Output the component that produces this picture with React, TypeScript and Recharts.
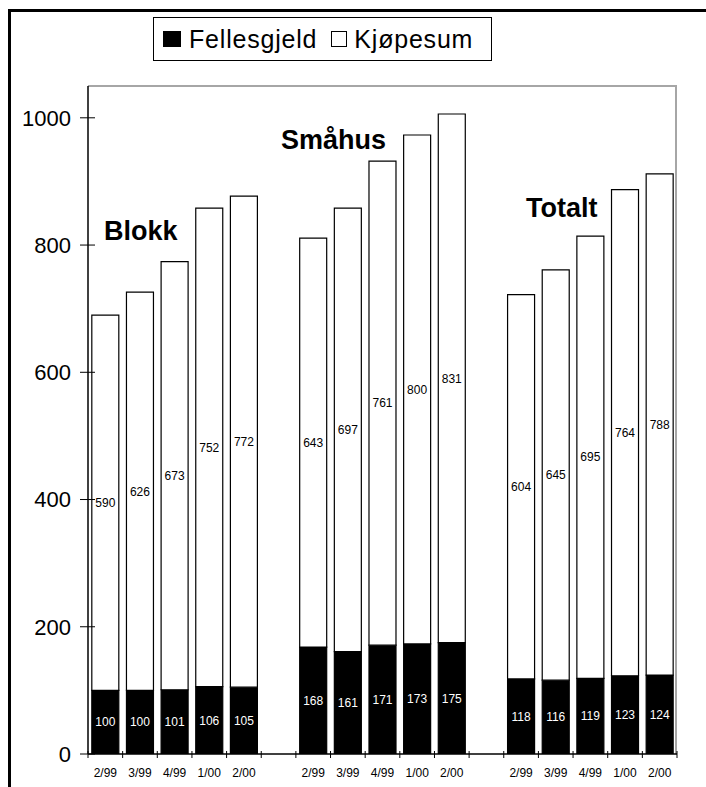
import { Bar, BarChart, LabelList, XAxis, YAxis } from "recharts";

const periods = ["2/99", "3/99", "4/99", "1/00", "2/00"];
const groups = ["Blokk", "Småhus", "Totalt"];

// Fellesgjeld (black) and Kjøpesum (white) per group, in 1000 kr
const blokkFelles = [100, 100, 101, 106, 105];
const blokkKjop = [590, 626, 673, 752, 772];
const smahusFelles = [168, 161, 171, 173, 175];
const smahusKjop = [643, 697, 761, 800, 831];
const totaltFelles = [118, 116, 119, 123, 124];
const totaltKjop = [604, 645, 695, 764, 788];

const yTicks = [0, 200, 400, 600, 800, 1000];

const FONT = "'Liberation Sans', Arial, sans-serif";

const W = 706;
const H = 787;
const PLOT_LEFT = 88;
const PLOT_RIGHT = 677;
const PLOT_TOP = 86;
const AXIS_H = 33;
const CATS = 17;
const BAND = (PLOT_RIGHT - PLOT_LEFT) / CATS;

type Row = { key: string; label: string; felles: number | null; kjop: number | null };

const seriesByGroup = [
  [blokkFelles, blokkKjop],
  [smahusFelles, smahusKjop],
  [totaltFelles, totaltKjop],
];

const data: Row[] = [];
groups.forEach((g, gi) => {
  if (gi > 0) data.push({ key: `gap${gi}`, label: "", felles: null, kjop: null });
  periods.forEach((p, i) => {
    data.push({
      key: `${g}-${p}`,
      label: p,
      felles: seriesByGroup[gi][0][i],
      kjop: seriesByGroup[gi][1][i],
    });
  });
});

function XTick(props: any) {
  const { x, y, index } = props;
  const row = data[index];
  const left = x - BAND / 2;
  return (
    <g>
      <line x1={left} x2={left} y1={y - 3} y2={y + 4} stroke="#000" />
      {index === data.length - 1 && (
        <line x1={x + BAND / 2} x2={x + BAND / 2} y1={y - 3} y2={y + 4} stroke="#000" />
      )}
      <text x={x} y={y + 23} textAnchor="middle" fontSize={12} fontFamily={FONT} fill="#000">
        {row ? row.label : ""}
      </text>
    </g>
  );
}

function YTick(props: any) {
  const { x, y, payload } = props;
  return (
    <g>
      <line x1={x - 8} x2={x + 7} y1={y} y2={y} stroke="#000" />
      <text x={x - 17} y={y} dy="0.36em" textAnchor="end" fontSize={22} fontFamily={FONT} fill="#000">
        {payload.value}
      </text>
    </g>
  );
}

const labelFmt = (v: any) => (v == null ? "" : v);

export default function App() {
  return (
    <div style={{ position: "fixed", left: 0, top: 0, width: W, height: H, background: "#fff", overflow: "hidden" }}>
      <div
        style={{
          position: "absolute",
          left: 8,
          top: 9,
          width: W,
          height: H,
          borderLeft: "3px solid #000",
          borderTop: "3px solid #000",
        }}
      />
      {/* plot area frame: grey top and right edges */}
      <div
        style={{
          position: "absolute",
          left: PLOT_LEFT,
          top: PLOT_TOP - 1,
          width: PLOT_RIGHT - PLOT_LEFT,
          height: H - AXIS_H - PLOT_TOP + 1,
          borderTop: "2px solid #a6a6a6",
          borderRight: "2px solid #a6a6a6",
          boxSizing: "border-box",
        }}
      />
      <BarChart
        width={W}
        height={H}
        data={data}
        margin={{ top: PLOT_TOP, right: W - PLOT_RIGHT, bottom: 0, left: 8 }}
        barCategoryGap="11%"
        style={{ position: "absolute", left: 0, top: 0 }}
      >
        <XAxis
          dataKey="key"
          interval={0}
          height={AXIS_H}
          tickLine={false}
          tickSize={0}
          tickMargin={0}
          tick={<XTick />}
          axisLine={{ stroke: "#000", strokeWidth: 1.5 }}
        />
        <YAxis
          width={PLOT_LEFT - 8}
          domain={[0, 1050]}
          ticks={yTicks}
          allowDataOverflow
          tickLine={false}
          tickSize={0}
          tickMargin={0}
          tick={<YTick />}
          axisLine={{ stroke: "#000", strokeWidth: 1.5 }}
        />
        <Bar dataKey="felles" stackId="a" fill="#000" stroke="#000" strokeWidth={1.2} isAnimationActive={false}>
          <LabelList dataKey="felles" position="center" formatter={labelFmt} fill="#fff" fontSize={12} fontFamily={FONT} />
        </Bar>
        <Bar dataKey="kjop" stackId="a" fill="#fff" stroke="#000" strokeWidth={1.2} isAnimationActive={false}>
          <LabelList dataKey="kjop" position="center" formatter={labelFmt} fill="#000" fontSize={12} fontFamily={FONT} />
        </Bar>
      </BarChart>

      <div
        style={{
          position: "absolute",
          left: 153,
          top: 17,
          width: 339,
          height: 44,
          border: "1px solid #000",
          boxSizing: "border-box",
          display: "flex",
          alignItems: "center",
          fontFamily: FONT,
          fontSize: 25,
          letterSpacing: 0.8,
          color: "#000",
          whiteSpace: "nowrap",
        }}
      >
        <span style={{ display: "inline-block", width: 18, height: 16, background: "#000", marginLeft: 9, marginRight: 8 }} />
        <span>Fellesgjeld</span>
        <span
          style={{
            display: "inline-block",
            width: 16,
            height: 16,
            border: "1px solid #000",
            boxSizing: "border-box",
            marginLeft: 14,
            marginRight: 7,
          }}
        />
        <span>Kjøpesum</span>
      </div>

      <svg width={W} height={H} style={{ position: "absolute", left: 0, top: 0, pointerEvents: "none" }}>
        <text x={104} y={240} fontSize={27} fontWeight="bold" fontFamily={FONT}>{groups[0]}</text>
        <text x={281} y={149} fontSize={27} fontWeight="bold" fontFamily={FONT}>{groups[1]}</text>
        <text x={526} y={217} fontSize={27} fontWeight="bold" fontFamily={FONT}>{groups[2]}</text>
      </svg>
    </div>
  );
}
